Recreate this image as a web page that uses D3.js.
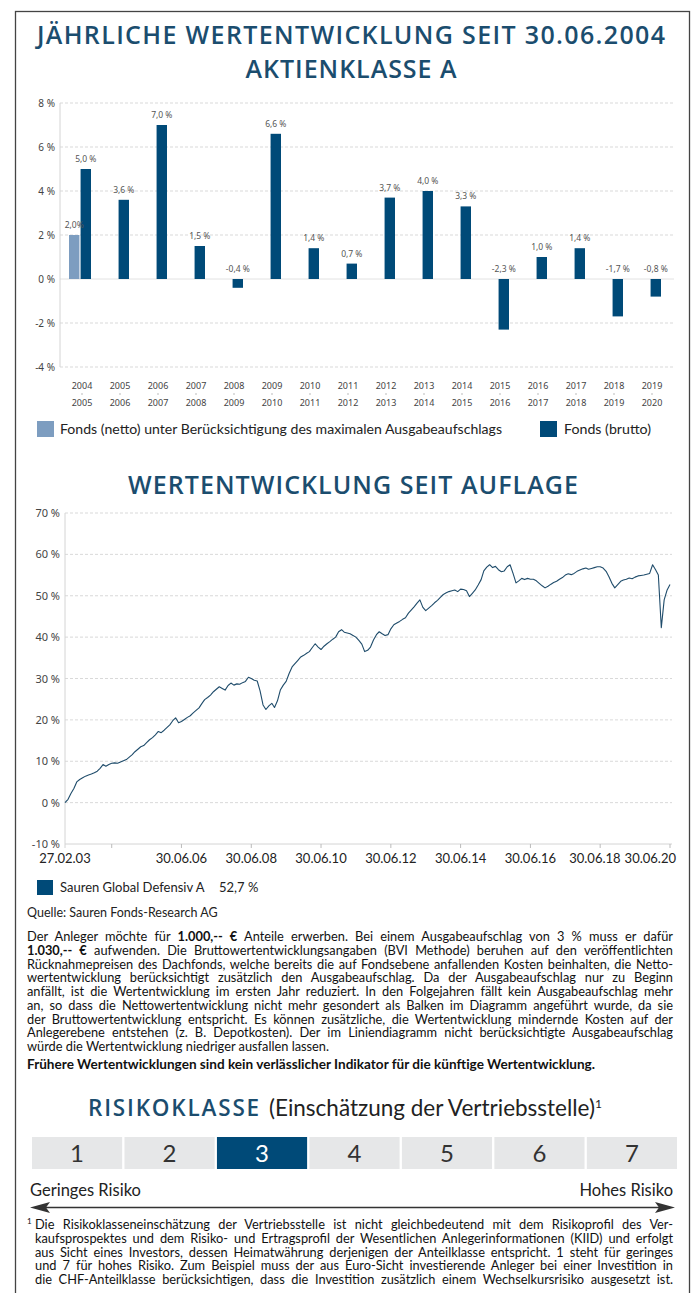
<!DOCTYPE html>
<html>
<head>
<meta charset="utf-8">
<script src="https://cdn.jsdelivr.net/npm/d3@7"></script>
<style>
  body { margin: 0; background: #fff; }
  svg { display: block; font-family: "Noto Sans", sans-serif; }
</style>
</head>
<body>
<svg id="page" width="695" height="1293"></svg>
<script>
// ---- data ----
const periodFrom = ["2004","2005","2006","2007","2008","2009","2010","2011","2012","2013","2014","2015","2016","2017","2018","2019"];
const periodTo   = ["2005","2006","2007","2008","2009","2010","2011","2012","2013","2014","2015","2016","2017","2018","2019","2020"];
const brutto = [5.0, 3.6, 7.0, 1.5, -0.4, 6.6, 1.4, 0.7, 3.7, 4.0, 3.3, -2.3, 1.0, 1.4, -1.7, -0.8];
const netto  = [2.0, null, null, null, null, null, null, null, null, null, null, null, null, null, null, null];
const barTicks = [-4, -2, 0, 2, 4, 6, 8];

// month-end values of the fund since launch (27.02.03 .. 30.06.20), in %
const lineValues = [
  0.0, 0.8, 2.2, 3.4, 5.0, 5.6, 6.0, 6.4, 6.7, 6.9, 7.2, 7.6, 8.3, 9.2, 8.8, 9.2, 9.5, 9.6, 9.5, 9.8,
  10.1, 10.4, 11.0, 11.6, 12.3, 12.9, 13.5, 13.8, 14.5, 15.2, 15.7, 16.4, 17.2, 16.9, 17.5, 18.2, 18.8, 19.8, 20.5, 19.3,
  19.6, 20.1, 20.6, 21.0, 21.7, 22.3, 22.9, 24.0, 24.9, 25.4, 26.0, 26.8, 27.4, 28.0, 27.6, 27.2, 28.3, 28.9, 28.4, 28.7,
  28.6, 29.0, 29.3, 30.3, 30.0, 29.6, 29.4, 27.0, 23.6, 22.5, 23.4, 24.0, 23.0, 24.6, 27.2, 28.4, 29.3, 31.2, 32.8, 33.6,
  34.4, 35.2, 35.6, 36.1, 36.5, 37.5, 38.4, 37.6, 37.0, 37.8, 38.4, 38.9, 39.5, 40.0, 41.3, 41.8, 41.2, 41.0, 40.8, 40.4,
  40.0, 39.2, 38.3, 36.5, 36.8, 37.6, 39.3, 40.6, 41.3, 40.8, 40.4, 40.6, 42.0, 43.0, 43.4, 43.8, 44.3, 44.7, 45.8, 46.6,
  47.3, 48.2, 49.0, 47.2, 46.4, 47.0, 47.6, 48.3, 48.9, 49.6, 50.3, 50.7, 51.0, 51.2, 51.4, 51.0, 51.6, 51.5, 51.2, 49.8,
  50.6, 51.4, 52.6, 53.9, 56.0, 56.9, 57.5, 56.8, 57.1, 56.3, 55.8, 56.0, 57.0, 57.5, 55.4, 53.1, 53.6, 54.2, 53.9, 54.2,
  54.0, 54.0, 53.6, 53.0, 52.4, 51.9, 52.3, 52.8, 53.2, 53.5, 54.0, 54.4, 55.0, 55.3, 55.1, 55.4, 55.9, 56.2, 56.5, 56.7,
  56.4, 56.6, 56.8, 57.0, 57.0, 56.7, 55.9, 54.6, 53.0, 51.9, 52.7, 53.5, 53.8, 54.0, 54.3, 54.1, 54.5, 54.8, 54.9, 55.0,
  55.2, 55.4, 57.5, 56.3, 55.0, 42.3, 49.0, 51.4, 52.7
];
const lineTicks = [-10, 0, 10, 20, 30, 40, 50, 60, 70];
const tickYears = [2004, 2006, 2008, 2010, 2012, 2014, 2016, 2018, 2020];
const labelYears = [2006, 2008, 2010, 2012, 2014, 2016, 2018, 2020];
const fundName = "Sauren Global Defensiv A";
const fundResult = "52,7 %";

const riskClasses = [1, 2, 3, 4, 5, 6, 7];
const riskSelected = 3;

const bodyLines = [
  ["Der Anleger möchte für ", {b: "1.000,-- €"}, " Anteile erwerben. Bei einem Ausgabeaufschlag von 3 % muss er dafür"],
  [{b: "1.030,-- €"}, " aufwenden. Die Bruttowertentwicklungsangaben (BVI Methode) beruhen auf den veröffentlichten"],
  ["Rücknahmepreisen des Dachfonds, welche bereits die auf Fondsebene anfallenden Kosten beinhalten, die Netto-"],
  ["wertentwicklung berücksichtigt zusätzlich den Ausgabeaufschlag. Da der Ausgabeaufschlag nur zu Beginn"],
  ["anfällt, ist die Wertentwicklung im ersten Jahr reduziert. In den Folgejahren fällt kein Ausgabeaufschlag mehr"],
  ["an, so dass die Nettowertentwicklung nicht mehr gesondert als Balken im Diagramm angeführt wurde, da sie"],
  ["der Bruttowertentwicklung entspricht. Es können zusätzliche, die Wertentwicklung mindernde Kosten auf der"],
  ["Anlegerebene entstehen (z. B. Depotkosten). Der im Liniendiagramm nicht berücksichtigte Ausgabeaufschlag"],
  ["würde die Wertentwicklung niedriger ausfallen lassen."]
];
const footLines = [
  "Die Risikoklasseneinschätzung der Vertriebsstelle ist nicht gleichbedeutend mit dem Risikoprofil des Ver-",
  "kaufsprospektes und dem Risiko- und Ertragsprofil der Wesentlichen Anlegerinformationen (KIID) und erfolgt",
  "aus Sicht eines Investors, dessen Heimatwährung derjenigen der Anteilklasse entspricht. 1 steht für geringes",
  "und 7 für hohes Risiko. Zum Beispiel muss der aus Euro-Sicht investierende Anleger bei einer Investition in",
  "die CHF-Anteilklasse berücksichtigen, dass die Investition zusätzlich einem Wechselkursrisiko ausgesetzt ist."
];

const blue = "#004a78";
const lightBlue = "#7d9dc0";
const titleBlue = "#1b4d6e";
const gridColor = "#cfcfcf";
const axisColor = "#d4d4d4";
const bodyFont = "Lato, 'Noto Sans', sans-serif";

const svg = d3.select("#page");

// frame
svg.append("rect")
  .attr("x", 15.5).attr("y", 11.5).attr("width", 674).attr("height", 1300)
  .attr("fill", "none").attr("stroke", "#444").attr("stroke-width", 1.3);

// stretch a line of text to a fixed width
function justify(text, width) {
  const w = text.node().getComputedTextLength();
  const spaces = (text.text().match(/ /g) || []).length;
  if (w > width || !spaces) {
    text.attr("textLength", width).attr("lengthAdjust", "spacingAndGlyphs");
  } else {
    text.attr("word-spacing", (width - w) / spaces);
  }
}

function title(str, cx, y, width, size) {
  svg.append("text")
    .attr("x", cx).attr("y", y)
    .attr("text-anchor", "middle")
    .attr("font-family", "'Open Sans', 'Noto Sans', sans-serif")
    .attr("font-weight", 600)
    .attr("font-size", size)
    .attr("fill", titleBlue)
    .attr("textLength", width).attr("lengthAdjust", "spacing")
    .text(str);
}

title("JÄHRLICHE WERTENTWICKLUNG SEIT 30.06.2004", 351, 44, 628, 25);
title("AKTIENKLASSE A", 351, 78, 211, 25);

// ---- bar chart ----
const barY = d3.scaleLinear().domain([-4, 8]).range([367, 103]);
const barX = d3.scaleBand().domain(periodFrom).range([61, 669]);
const subX = d3.scaleBand().domain(["netto", "brutto"]).range([8, 30]).paddingInner(0.1);

const bar = svg.append("g");

bar.selectAll(".grid").data(barTicks.filter(d => d !== 0)).join("line")
  .attr("x1", 60).attr("x2", 674)
  .attr("y1", d => barY(d)).attr("y2", d => barY(d))
  .attr("stroke", gridColor).attr("stroke-width", 0.8).attr("stroke-dasharray", "3,2");
bar.append("line")
  .attr("x1", 60).attr("x2", 674).attr("y1", barY(0)).attr("y2", barY(0))
  .attr("stroke", "#e2e2e2").attr("stroke-width", 1);
bar.append("line")
  .attr("x1", 60).attr("x2", 60).attr("y1", barY(8)).attr("y2", barY(-4))
  .attr("stroke", axisColor).attr("stroke-width", 1);

bar.selectAll(".ytick").data(barTicks).join("text")
  .attr("x", 55).attr("y", d => barY(d) + 3.5)
  .attr("text-anchor", "end").attr("font-size", 10).attr("fill", "#444")
  .text(d => d + " %");

const barData = [];
periodFrom.forEach((p, i) => {
  if (netto[i] !== null) barData.push({p, key: "netto", v: netto[i]});
  barData.push({p, key: "brutto", v: brutto[i]});
});
const fmt = v => d3.format(".1f")(v).replace(".", ",").replace("\u2212", "-");

bar.selectAll(".bar").data(barData).join("rect")
  .attr("x", d => barX(d.p) + subX(d.key))
  .attr("width", subX.bandwidth())
  .attr("y", d => barY(Math.max(0, d.v)))
  .attr("height", d => Math.abs(barY(d.v) - barY(0)))
  .attr("fill", d => d.key === "netto" ? lightBlue : blue);

bar.selectAll(".vlabel").data(barData).join("text")
  .attr("x", d => barX(d.p) + subX(d.key) + subX.bandwidth() / 2)
  .attr("y", d => barY(Math.max(0, d.v)) - 7)
  .attr("text-anchor", "middle").attr("font-size", 8.5).attr("fill", "#555")
  .text(d => d.key === "netto" ? fmt(d.v) + "%" : fmt(d.v) + " %");

bar.selectAll(".from").data(periodFrom).join("text")
  .attr("x", d => barX(d) + barX.bandwidth() / 2 + 2).attr("y", 389)
  .attr("text-anchor", "middle").attr("font-size", 9).attr("fill", "#444")
  .text(d => d);
bar.selectAll(".to").data(periodTo).join("text")
  .attr("x", (d, i) => barX(periodFrom[i]) + barX.bandwidth() / 2 + 2).attr("y", 406)
  .attr("text-anchor", "middle").attr("font-size", 9).attr("fill", "#444")
  .text(d => d);
bar.selectAll(".sep").data(periodFrom).join("line")
  .attr("x1", d => barX(d) + barX.bandwidth() / 2 + 2).attr("x2", d => barX(d) + barX.bandwidth() / 2 + 2)
  .attr("y1", 393).attr("y2", 395).attr("stroke", "#bbb");

// legend
const leg = svg.append("g").attr("font-family", bodyFont).attr("font-size", 13.5).attr("fill", "#222");
leg.append("rect").attr("x", 37).attr("y", 421).attr("width", 17).attr("height", 16).attr("fill", lightBlue);
leg.append("text").attr("x", 60).attr("y", 434)
  .text("Fonds (netto) unter Berücksichtigung des maximalen Ausgabeaufschlags")
  .call(t => t.attr("textLength", 442).attr("lengthAdjust", "spacingAndGlyphs"));
leg.append("rect").attr("x", 540).attr("y", 421).attr("width", 17).attr("height", 16).attr("fill", blue);
leg.append("text").attr("x", 564).attr("y", 434).text("Fonds (brutto)")
  .call(t => t.attr("textLength", 87).attr("lengthAdjust", "spacingAndGlyphs"));

// ---- line chart ----
title("WERTENTWICKLUNG SEIT AUFLAGE", 353, 494, 450, 25);

const lineDates = lineValues.map((v, i) => i === 0 ? new Date(2003, 1, 27) : new Date(2003, 2 + i, 0));
const lx = d3.scaleTime().domain([lineDates[0], lineDates[lineDates.length - 1]]).range([65, 670]);
const ly = d3.scaleLinear().domain([-10, 70]).range([844, 513]);

const lc = svg.append("g");
lc.selectAll(".grid").data(lineTicks.filter(d => d !== -10)).join("line")
  .attr("x1", 65).attr("x2", 672)
  .attr("y1", d => ly(d)).attr("y2", d => ly(d))
  .attr("stroke", gridColor).attr("stroke-width", 0.8).attr("stroke-dasharray", "3,2");
lc.append("line").attr("x1", 65).attr("x2", 672).attr("y1", ly(-10)).attr("y2", ly(-10))
  .attr("stroke", axisColor);
lc.append("line").attr("x1", 65).attr("x2", 65).attr("y1", ly(70)).attr("y2", ly(-10) + 4)
  .attr("stroke", axisColor);
lc.selectAll(".xt").data(tickYears).join("line")
  .attr("x1", d => lx(new Date(d, 5, 30))).attr("x2", d => lx(new Date(d, 5, 30)))
  .attr("y1", ly(-10)).attr("y2", ly(-10) + 4)
  .attr("stroke", "#bbb");

lc.selectAll(".ytick").data(lineTicks).join("text")
  .attr("x", 60).attr("y", d => ly(d) + 4)
  .attr("text-anchor", "end").attr("font-size", 11).attr("fill", "#444")
  .text(d => d + " %");

const line = d3.line().x((d, i) => lx(lineDates[i])).y(d => ly(d));
lc.append("path").datum(lineValues)
  .attr("d", line).attr("fill", "none")
  .attr("stroke", "#1f4c6b").attr("stroke-width", 1.1).attr("stroke-linejoin", "round");

// date labels, pushed left where they would collide with the frame or each other
const dateFmt = d3.timeFormat("%d.%m.%y");
const xLabels = lc.selectAll(".xl").data([lineDates[0]].concat(labelYears.map(y => new Date(y, 5, 30)))).join("text")
  .attr("font-family", bodyFont).attr("font-size", 13).attr("fill", "#222")
  .attr("text-anchor", "middle").attr("y", 863)
  .text(d => dateFmt(d));
const widths = xLabels.nodes().map(n => n.getComputedTextLength());
const pos = xLabels.data().map(d => lx(d));
pos[0] = Math.max(pos[0], 37 + widths[0] / 2);
let right = 676;
for (let i = pos.length - 1; i > 0; i--) {
  pos[i] = Math.min(pos[i], right - widths[i] / 2);
  right = pos[i] - widths[i] / 2 - 4;
}
xLabels.attr("x", (d, i) => pos[i]);

// line legend
const ll = svg.append("g").attr("font-family", bodyFont).attr("font-size", 13).attr("fill", "#222");
ll.append("rect").attr("x", 37).attr("y", 880).attr("width", 16).attr("height", 15).attr("fill", blue);
ll.append("text").attr("x", 60).attr("y", 892).text(fundName);
ll.append("text").attr("x", 219).attr("y", 892).text(fundResult);

svg.append("text").attr("x", 27).attr("y", 917)
  .attr("font-family", bodyFont).attr("font-size", 12.5).attr("fill", "#222")
  .text("Quelle: Sauren Fonds-Research AG");

// ---- paragraph ----
const body = svg.append("g").attr("font-family", bodyFont).attr("font-size", 12.8).attr("fill", "#111");
bodyLines.forEach((parts, i) => {
  const t = body.append("text").attr("x", 27).attr("y", 941 + i * 13.75);
  parts.forEach(p => {
    if (typeof p === "string") t.append("tspan").text(p);
    else t.append("tspan").attr("font-weight", 700).text(p.b);
  });
  if (i < bodyLines.length - 1) justify(t, 646);
});

svg.append("text").attr("x", 27).attr("y", 1069)
  .attr("font-family", bodyFont).attr("font-size", 12.5).attr("font-weight", 700).attr("fill", "#111")
  .text("Frühere Wertentwicklungen sind kein verlässlicher Indikator für die künftige Wertentwicklung.")
  .call(t => t.attr("textLength", 568).attr("lengthAdjust", "spacingAndGlyphs"));

// ---- risk class ----
const rt = svg.append("text").attr("x", 345).attr("y", 1116).attr("text-anchor", "middle")
  .attr("font-family", bodyFont).attr("font-size", 22.5);
rt.append("tspan").attr("fill", titleBlue).attr("font-family", "'Open Sans', 'Noto Sans', sans-serif")
  .attr("font-weight", 600).attr("letter-spacing", 1.8).text("RISIKOKLASSE");
rt.append("tspan").attr("fill", "#222").attr("dx", 8).text("(Einschätzung der Vertriebsstelle)");
rt.append("tspan").attr("fill", "#222").attr("font-size", 12).attr("dy", -8).text("1");

const rx = d3.scaleBand().domain(riskClasses).range([32, 677]).paddingInner(0.025);
const rg = svg.append("g");
rg.selectAll("rect").data(riskClasses).join("rect")
  .attr("x", d => rx(d)).attr("y", 1137).attr("width", rx.bandwidth()).attr("height", 32)
  .attr("fill", d => d === riskSelected ? blue : "#e6e7e8");
rg.selectAll("text").data(riskClasses).join("text")
  .attr("x", d => rx(d) + rx.bandwidth() / 2).attr("y", 1162)
  .attr("text-anchor", "middle").attr("font-family", bodyFont).attr("font-weight", 400)
  .attr("font-size", 24)
  .attr("fill", d => d === riskSelected ? "#fff" : "#333")
  .text(d => d);

const rl = svg.append("g").attr("font-family", bodyFont).attr("font-size", 16.5).attr("fill", "#222");
rl.append("text").attr("x", 30).attr("y", 1196).text("Geringes Risiko");
rl.append("text").attr("x", 673).attr("y", 1196).attr("text-anchor", "end").text("Hohes Risiko");

svg.append("line").attr("x1", 45).attr("x2", 660).attr("y1", 1207.5).attr("y2", 1207.5)
  .attr("stroke", "#333").attr("stroke-width", 1.4);
svg.append("path").attr("d", "M30,1207.5 L50,1202 L46,1207.5 L50,1213 Z").attr("fill", "#333");
svg.append("path").attr("d", "M675,1207.5 L655,1202 L659,1207.5 L655,1213 Z").attr("fill", "#333");

// footnote
const foot = svg.append("g").attr("font-family", bodyFont).attr("font-size", 12.8).attr("fill", "#111");
foot.append("text").attr("x", 27).attr("y", 1224).attr("font-size", 8).text("1");
footLines.forEach((s, i) => {
  const t = foot.append("text").attr("x", 35).attr("y", 1229 + i * 13.75).text(s);
  justify(t, 638);
});
</script>
</body>
</html>
